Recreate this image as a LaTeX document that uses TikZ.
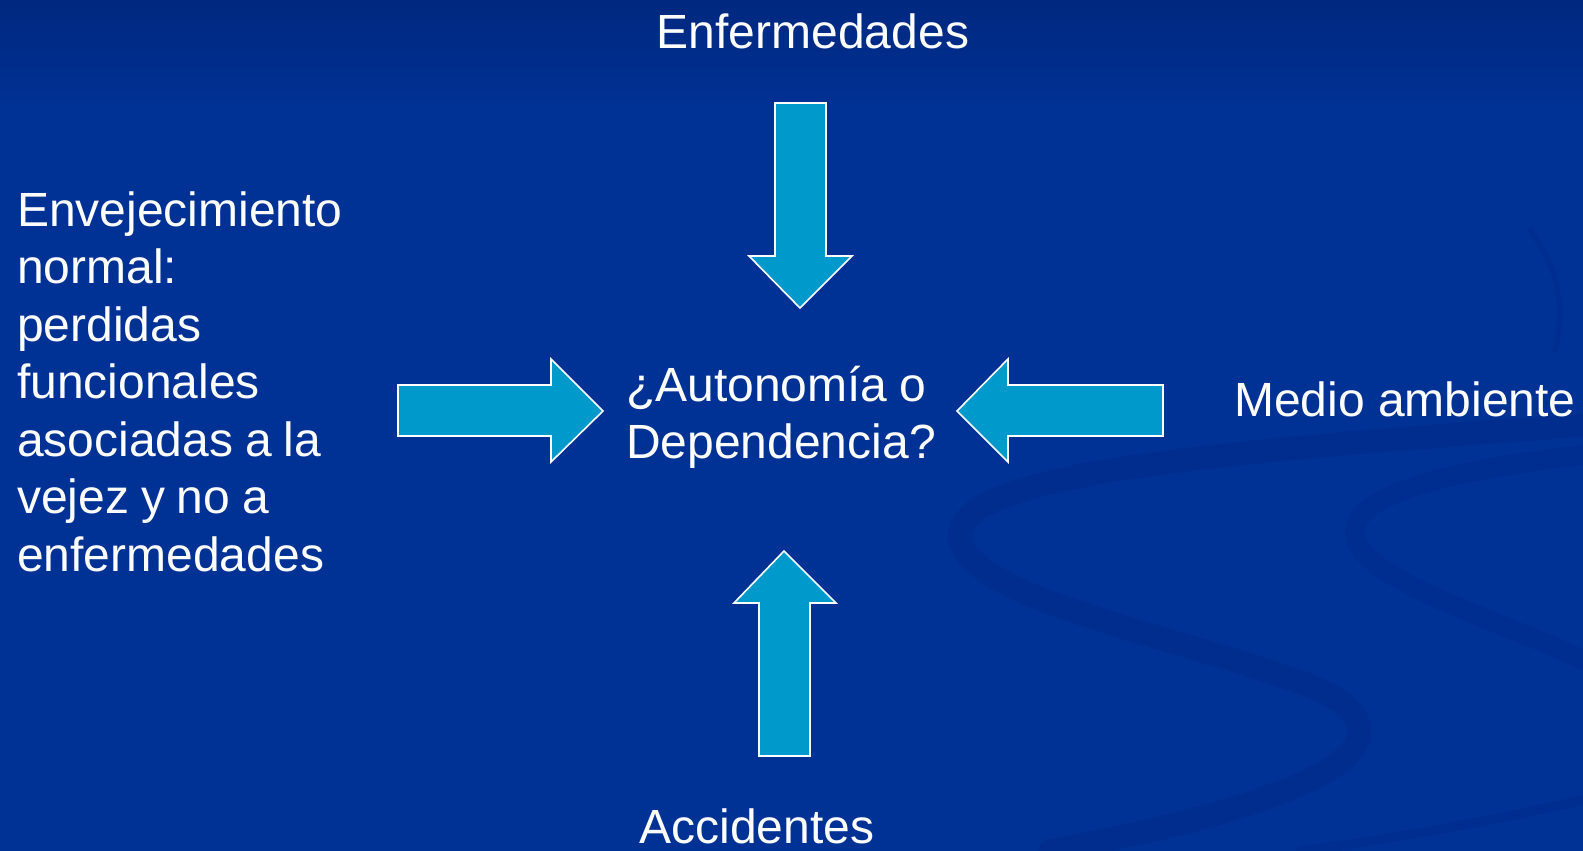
\documentclass[tikz,border=0pt]{standalone}
\usepackage{fontspec}
\setmainfont{Liberation Sans}
\newcommand\tightwords{\spaceskip=11.9pt\relax}
\begin{document}
\begin{tikzpicture}[x=1pt,y=-1pt,
  arrowshape/.style={fill=arrowblue,draw=white,line width=1.6pt,line join=miter},
  lbl/.style={text=white,inner sep=0pt,font=\fontsize{48}{57.5}\selectfont},
  swirl/.style={draw=swirlblue,line cap=round}]
\definecolor{bgtop}{RGB}{0,40,128}
\definecolor{bgmid}{RGB}{0,50,150}
\definecolor{arrowblue}{RGB}{0,153,204}
\definecolor{swirlblue}{RGB}{0,44,140}
\useasboundingbox (0,0) rectangle (1583,851);
\shade[top color=bgtop,bottom color=bgmid] (0,0) rectangle (1583,120);
\fill[bgmid] (0,119) rectangle (1583,851);
% background swirls
\draw[swirl,line width=24pt,opacity=0.7] (1583,425) .. controls (1250,450) and (960,470) .. (960,535)
  .. controls (960,600) and (1200,640) .. (1320,690) .. controls (1420,740) and (1330,800) .. (1050,851);
\draw[swirl,line width=20pt,opacity=0.6] (1583,455) .. controls (1450,470) and (1350,495) .. (1355,535)
  .. controls (1360,580) and (1500,620) .. (1583,660);
\draw[swirl,line width=6pt,opacity=0.5] (1530,230) .. controls (1560,270) and (1565,310) .. (1555,350);
\draw[swirl,line width=10pt,opacity=0.5] (1583,800) .. controls (1450,830) and (1350,845) .. (1300,851);
% arrows
\path[arrowshape] (775,103) -- (826,103) -- (826,256) -- (852,256) -- (800,308) coordinate (tipT) -- (749,256) -- (775,256) -- cycle;
\path[arrowshape] (398,385) -- (551,385) -- (551,359) -- (603,411) coordinate (tipL) -- (551,462) -- (551,436) -- (398,436) -- cycle;
\path[arrowshape] (1163,385) -- (1008,385) -- (1008,359) -- (957,411) coordinate (tipR) -- (1008,462) -- (1008,436) -- (1163,436) -- cycle;
\path[arrowshape] (759,756) -- (759,603) -- (734,603) -- (784,551) coordinate (tipB) -- (836,603) -- (810,603) -- (810,756) -- cycle;
% labels
\node[lbl,anchor=base] (enf) at (813,48.5) {Enfermedades};
\node[lbl,anchor=base west,text width=360pt,align=left] (centro) at (626,401) {\tightwords ¿Autonomía o\\Dependencia?};
\node[lbl,anchor=base west] (medio) at (1234,416) {Medio ambiente};
\node[lbl,anchor=base] (acc) at (757,843) {Accidentes};
\node[lbl,anchor=base west,text width=370pt,align=left] (env) at (17,226) {\tightwords Envejecimiento\\normal:\\perdidas\\funcionales\\asociadas a la\\vejez y no a\\enfermedades};
\end{tikzpicture}
\end{document}
